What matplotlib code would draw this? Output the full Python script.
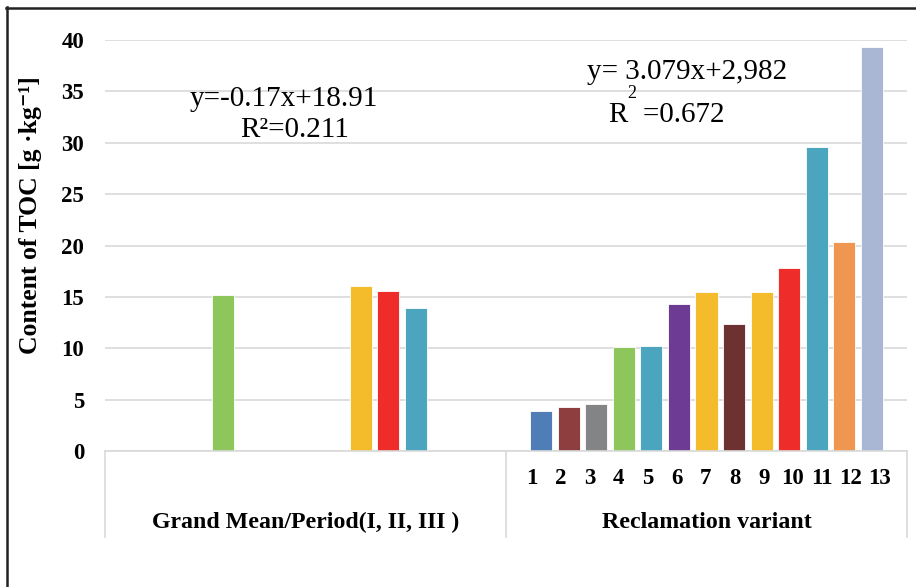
import numpy as np
import matplotlib
matplotlib.use("Agg")
import matplotlib.pyplot as plt
from matplotlib.lines import Line2D
from matplotlib.transforms import blended_transform_factory

plt.rcParams['font.family'] = ['Liberation Serif', 'DejaVu Serif']

# ---- data ----
group_labels = ["Grand Mean/Period(I, II, III )", "Reclamation variant"]
period_values = [15.2, 16.1, 15.6, 13.9]
period_colors = ["#8DC65A", "#F4BC2A", "#EE2D2A", "#4BA5BF"]
variant_labels = ["1", "2", "3", "4", "5", "6", "7", "8", "9", "10", "11", "12", "13"]
variant_values = [3.9, 4.3, 4.6, 10.1, 10.2, 14.3, 15.5, 12.4, 15.5, 17.8, 29.6, 20.3, 39.3]
variant_colors = ["#4F7DB5", "#8E3E3E", "#838486", "#8DC65A", "#4BA5BF", "#6D3B94",
                  "#F4BC2A", "#6E3131", "#F4BC2A", "#EE2D2A", "#4BA5BF", "#EF9751", "#A9B7D5"]
y_ticks = [0, 5, 10, 15, 20, 25, 30, 35, 40]

W, H = 916, 587
fig = plt.figure(figsize=(W / 100, H / 100), dpi=100)
ax = fig.add_axes([105 / W, 1 - 451 / H, (907 - 105) / W, (451 - 40) / H])

# positions (layout)
period_x = 4.27 + np.array([0, 5, 6, 7])
variant_x = 15.81 + np.arange(len(variant_values))
sep_x = 14.54
xmax = 29.08

ax.bar(period_x, period_values, width=0.8, color=period_colors, edgecolor="white", linewidth=0.6, zorder=3)
ax.bar(variant_x, variant_values, width=0.8, color=variant_colors, edgecolor="white", linewidth=0.6, zorder=3)

ax.set_xlim(0, xmax)
ax.set_ylim(0, 40)
ax.set_yticks(y_ticks)
ax.set_yticklabels([str(t) for t in y_ticks], fontsize=16.5, fontweight="bold")
ax.tick_params(axis="y", length=0, pad=15)
ax.set_xticks([])
ax.grid(axis="y", color="#D9D9D9", linewidth=1.2, zorder=0)
for s in ["top", "right", "left"]:
    ax.spines[s].set_visible(False)
ax.spines["bottom"].set_color("#D9D9D9")
ax.spines["bottom"].set_linewidth(1.2)
ax.spines["bottom"].set_zorder(4)

# category axis boxes
tr = blended_transform_factory(ax.transData, ax.transAxes)
ybot = -(537 - 451) / 411
for xv in [0, sep_x, xmax]:
    ax.add_line(Line2D([xv, xv], [0, ybot], transform=tr, color="#D9D9D9", lw=1.2, clip_on=False))

# variant tick labels
label_x = np.linspace(15.47, 28.10, len(variant_labels))
ylab = -(479 - 451) / 411
for lx, lab in zip(label_x, variant_labels):
    ax.text(lx, ylab, lab, transform=tr, ha="center", va="center", fontsize=16.5, fontweight="bold")

ygrp = -(522 - 451) / 411
ax.text(sep_x / 2, ygrp, group_labels[0], transform=tr, ha="center", va="center", fontsize=17.2, fontweight="bold")
ax.text((sep_x + xmax) / 2, ygrp, group_labels[1], transform=tr, ha="center", va="center", fontsize=17.2, fontweight="bold")

# y label
fig.text(31 / W, 1 - 215 / H, "Content of TOC [g \u00b7kg\u207b\u00b9]", rotation=90,
         ha="center", va="center", fontsize=18.5, fontweight="bold")

# equations
fig.text(284 / W, 1 - 99 / H, "y=-0.17x+18.91", ha="center", va="center", fontsize=21)
fig.text(295 / W, 1 - 130 / H, "R\u00b2=0.211", ha="center", va="center", fontsize=21)
fig.text(687 / W, 1 - 72 / H, "y= 3.079x+2,982", ha="center", va="center", fontsize=21)
fig.text(609 / W, 1 - 115 / H, "R  =0.672", ha="left", va="center", fontsize=21)
fig.text(632 / W, 1 - 93 / H, "2", ha="center", va="center", fontsize=13)

# outer frame
fig.add_artist(Line2D([6.5 / W, 6.5 / W], [0, 1 - 7 / H], transform=fig.transFigure, color="#222222", lw=1.8))
fig.add_artist(Line2D([6 / W, 1], [1 - 7.5 / H, 1 - 7.5 / H], transform=fig.transFigure, color="#222222", lw=1.8))

fig.savefig("out.png", dpi=100)
